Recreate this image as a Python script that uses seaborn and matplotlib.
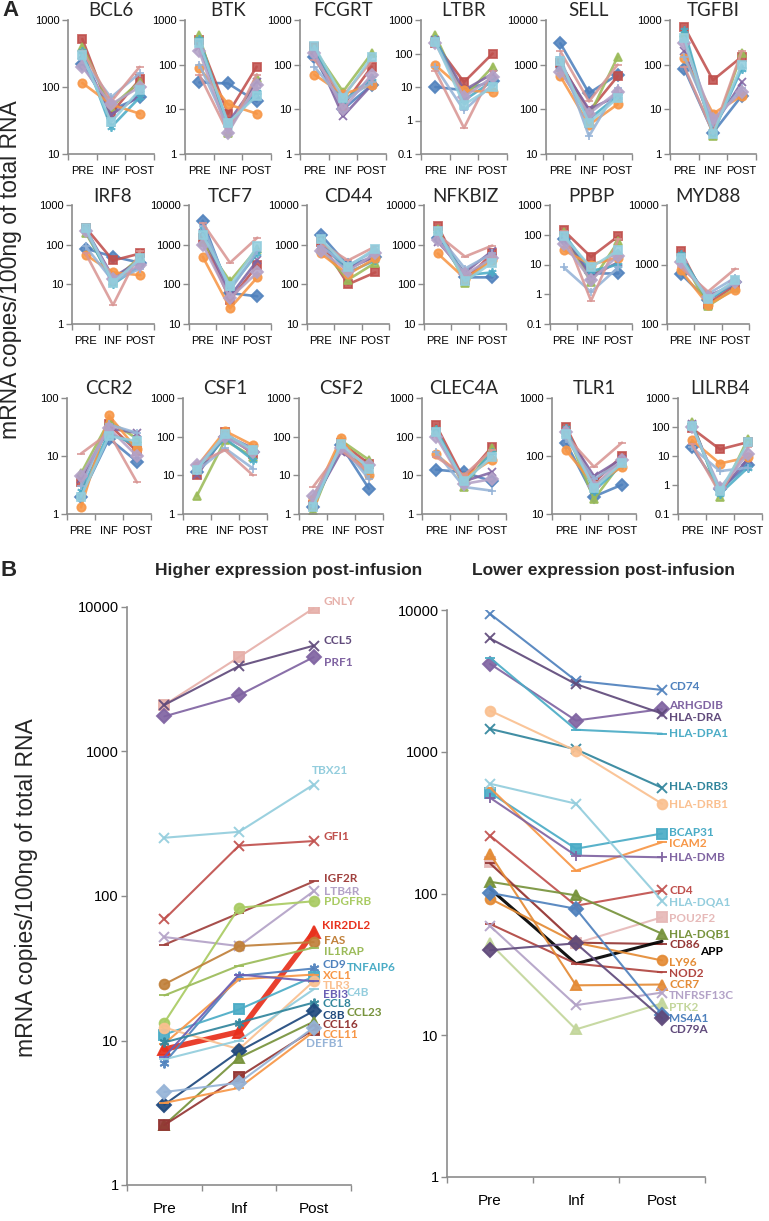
import matplotlib
matplotlib.use("Agg")
import matplotlib.pyplot as plt
import matplotlib.ticker as mticker
import seaborn as sns
import numpy as np

# ---------------- DATA ----------------
A_times = ["PRE", "INF", "POST"]
B_times = ["Pre", "Inf", "Post"]

A_genes = ["BCL6", "BTK", "FCGRT", "LTBR", "SELL", "TGFBI",
           "IRF8", "TCF7", "CD44", "NFKBIZ", "PPBP", "MYD88",
           "CCR2", "CSF1", "CSF2", "CLEC4A", "TLR1", "LILRB4"]
A_ylims = [(10, 1000), (1, 1000), (1, 1000), (0.1, 1000), (10, 10000), (1, 1000),
           (1, 1000), (10, 10000), (10, 10000), (10, 10000), (0.1, 1000), (100, 10000),
           (1, 100), (1, 1000), (1, 1000), (1, 1000), (10, 1000), (0.1, 1000)]

# ten patients per gene, values PRE / INF / POST
BCL6 = [[220, 45, 70], [520, 40, 130], [400, 50, 120], [300, 38, 75], [350, 25, 70],
        [115, 55, 40], [250, 70, 160], [350, 60, 200], [200, 55, 100], [300, 30, 90]]
BTK = [[40, 38, 15], [350, 8, 90], [450, 3, 50], [250, 5, 40], [380, 4, 25],
       [85, 13, 8], [100, 4, 30], [60, 3, 60], [200, 3, 35], [300, 5, 20]]
FCGRT = [[150, 10, 35], [250, 12, 90], [220, 25, 180], [200, 7, 35], [230, 15, 50],
         [60, 22, 35], [90, 15, 40], [130, 20, 120], [180, 10, 60], [260, 18, 150]]
LTBR = [[10, 8, 15], [200, 14, 100], [350, 5, 40], [250, 8, 25], [280, 4, 15],
        [45, 8, 7], [40, 2, 12], [30, 0.6, 30], [200, 5, 20], [220, 3, 10]]
SELL = [[3000, 230, 600], [1100, 90, 550], [900, 70, 1500], [1000, 100, 200], [800, 60, 200],
        [550, 45, 130], [1500, 25, 300], [2000, 150, 1000], [700, 80, 250], [1200, 50, 180]]
TGFBI = [[80, 3, 20], [700, 45, 150], [500, 2.5, 180], [200, 4, 40], [600, 3, 80],
         [140, 8, 20], [150, 5, 30], [90, 3, 200], [300, 6, 25], [400, 2.8, 100]]
IRF8 = [[80, 50, 35], [270, 40, 60], [200, 12, 50], [250, 15, 40], [230, 10, 30],
        [55, 20, 17], [90, 12, 25], [60, 3, 70], [220, 14, 30], [260, 11, 45]]
TCF7 = [[4000, 60, 50], [1500, 40, 300], [1200, 120, 800], [2000, 50, 400], [2500, 80, 600],
        [500, 25, 150], [3000, 70, 700], [3500, 350, 1500], [1000, 45, 200], [1800, 90, 900]]
CD44 = [[1800, 300, 500], [1200, 100, 200], [800, 130, 350], [1000, 250, 500], [1300, 200, 400],
        [600, 180, 450], [900, 300, 700], [1100, 400, 900], [700, 220, 600], [1400, 280, 800]]
NFKBIZ = [[1500, 150, 150], [3000, 130, 600], [2500, 110, 500], [1200, 200, 700], [2000, 170, 200],
          [600, 140, 400], [1800, 250, 600], [1800, 500, 950], [1300, 180, 450], [2200, 120, 350]]
PPBP = [[70, 5, 5], [140, 18, 90], [120, 2.5, 60], [100, 4, 12], [110, 6, 10],
        [30, 10, 17], [8, 1.2, 8], [130, 0.6, 70], [50, 3, 20], [90, 8, 30]]
MYD88 = [[700, 250, 500], [1700, 220, 450], [1400, 200, 400], [1200, 300, 450], [1500, 250, 500],
         [800, 210, 380], [1000, 320, 600], [900, 350, 850], [1100, 280, 500], [1300, 260, 550]]
CCR2 = [[2, 20, 8], [3.5, 35, 12], [5, 40, 20], [4, 30, 25], [2.5, 25, 15],
        [1.3, 50, 13], [3, 35, 25], [11, 25, 3.5], [4.5, 30, 10], [2, 22, 18]]
CSF1 = [[12, 100, 40], [10, 130, 35], [3, 80, 30], [10, 110, 50], [15, 90, 25],
        [17, 140, 60], [13, 50, 15], [20, 45, 10], [18, 100, 40], [14, 120, 45]]
CSF2 = [[1.5, 60, 4.5], [1.7, 70, 20], [1.2, 80, 25], [2, 40, 15], [1.8, 55, 10],
        [2.5, 90, 10], [2, 60, 8], [5, 45, 12], [3, 50, 18], [1.5, 65, 15]]
CLEC4A = [[14, 12, 7], [200, 8, 55], [150, 5, 50], [120, 7, 12], [160, 6, 40],
          [35, 9, 25], [40, 5, 4], [30, 10, 45], [100, 6, 8], [130, 7, 30]]
TLR1 = [[170, 20, 32], [320, 35, 100], [280, 18, 80], [250, 45, 90], [300, 25, 70],
        [125, 32, 65], [200, 40, 80], [220, 65, 170], [260, 30, 85], [240, 28, 75]]
LILRB4 = [[20, 0.7, 5], [90, 17, 30], [150, 0.4, 40], [130, 0.6, 8], [120, 0.5, 4],
          [35, 5.5, 9], [20, 3, 4], [25, 0.5, 20], [100, 0.8, 12], [110, 0.6, 30]]
A_values = [BCL6, BTK, FCGRT, LTBR, SELL, TGFBI, IRF8, TCF7, CD44, NFKBIZ, PPBP, MYD88,
            CCR2, CSF1, CSF2, CLEC4A, TLR1, LILRB4]

# Panel B left: higher expression post-infusion
BL_genes = ["GNLY", "CCL5", "PRF1", "TBX21", "GFI1", "IGF2R", "LTB4R", "PDGFRB", "KIR2DL2",
            "FAS", "IL1RAP", "CD9", "TNFAIP6", "XCL1", "TLR3", "C4B", "EBI3", "CCL8", "C8B",
            "CCL23", "CCL16", "CCL11", "DEFB1"]
BL_pre = [2100, 2100, 1750, 253, 69, 46, 52, 13.3, 8.7, 24.5, 20.5, 7, 11, 9.5, 12.3, 7.4, 7.7,
          9.7, 3.6, 2.6, 2.6, 3.7, 4.4]
BL_inf = [4500, 3900, 2450, 278, 223, 76, 45, 83, 11.5, 45, 33, 28, 16.4, 26.5, 8.7, 10, 28.6,
          13.3, 8.4, 7.6, 5.6, 4.7, 5.1]
BL_post = [9800, 5400, 4500, 590, 240, 126, 108, 92, 56, 48, 44, 31.5, 27.7, 28.6, 25.7, 22.6,
           25.7, 18.3, 16, 13.5, 11.9, 11.5, 12.3]
BL_label_y = [11000, 5900, 4150, 735, 257, 133, 108, 91, 62, 49, 41.5, 33.7, 32, 28.3, 24, 21.5,
              20.9, 18, 14.9, 15.6, 12.9, 11, 9.5]
BL_colors = ["#E6B0AA", "#604A7B", "#8064A2", "#93CDDD", "#C0504D", "#A0403D", "#B3A2C7",
             "#A9CB63", "#E8301C", "#C0803A", "#9BBB59", "#4F81BD", "#4BACC6", "#F79646",
             "#FAC090", "#93CDDD", "#6A5FB5", "#31859C", "#1F497D", "#77933C", "#943634",
             "#F79646", "#95B3D7"]

# Panel B right: lower expression post-infusion
BR_genes = ["CD74", "ARHGDIB", "HLA-DRA", "HLA-DPA1", "HLA-DRB3", "HLA-DRB1", "BCAP31", "ICAM2",
            "HLA-DMB", "CD4", "HLA-DQA1", "POU2F2", "HLA-DQB1", "CD86", "APP", "LY96", "NOD2",
            "CCR7", "TNFRSF13C", "PTK2", "MS4A1", "CD79A"]
BR_pre = [9400, 4170, 6300, 4600, 1450, 1950, 515, 557, 474, 256, 595, 166, 121, 163, 108, 92, 61,
          190, 59, 44.5, 101, 39.8]
BR_inf = [3170, 1660, 3000, 1430, 1040, 1015, 207, 145, 185, 82, 430, 44.5, 97, 45, 32, 45, 32,
          22.5, 16.3, 11, 78, 44.5]
BR_post = [2730, 2000, 1860, 1340, 557, 430, 265, 230, 180, 105, 89, 68, 52, 44, 46, 33.7, 27.8,
           22.8, 20, 16.8, 14, 13.2]
BR_label_y = [2870, 2110, 1735, 1340, 567, 424, 269, 225, 179, 105, 86.5, 66.7, 52, 43.7, 39, 32.7,
              27.3, 22.9, 19.1, 15.7, 13.2, 11]
BR_colors = ["#4F81BD", "#8064A2", "#604A7B", "#4BACC6", "#31859C", "#FAC090", "#4BACC6",
             "#F79646", "#8064A2", "#C0504D", "#93CDDD", "#E6B9B8", "#77933C", "#943634",
             "#000000", "#E48B35", "#B04540", "#E48B35", "#B3A2C7", "#C3D69B", "#4F81BD",
             "#604A7B"]

# ---------------- STYLE ----------------
ASTER = (6, 2, 0)
A_colors = ["#4F81BD", "#C0504D", "#9BBB59", "#8064A2", "#4BACC6", "#F79646",
            "#95B3D7", "#D99694", "#B3A2C7", "#93CDDD"]
A_markers = ["D", "s", "^", "x", ASTER, "o", "+", "_", "D", "s"]

BL_markers = ["s", "x", "D", "x", "x", "_", "x", "o", "^", "o", "_", ASTER, "s", "_", "o",
              "_", "_", ASTER, "D", "^", "s", "_", "D"]
BL_dx = [10, 10, 10, -2, 10, 10, 10, 10, 8, 10, 10, 9, 33, 9, 9, 33, 9, 9, 9, 33, 9, 9, -8]
BL_lw = [1.5] * 23
BL_lw[8] = 4.0

BR_markers = ["x", "D", "x", "_", "x", "o", "s", "_", "+", "x", "x", "s", "^", "_", None, "o",
              "_", "^", "x", "^", "D", "D"]
BR_dx = [7] * 22
BR_dx[14] = 38
BR_lw = [1.5] * 22
BR_lw[14] = 2.2

sns.set_theme(style="white")
plt.rcParams["font.family"] = ["Liberation Sans", "DejaVu Sans"]
GRAY = "#8C8C8C"

W, H = 769, 1221
fig = plt.figure(figsize=(W / 100, H / 100), dpi=100)
fig.patch.set_facecolor("white")


def add_ax(left, top, width, height):
    return fig.add_axes([left / W, 1 - (top + height) / H, width / W, height / H])


def style_ax(ax, ylo, yhi, labels, ysize, xsize, xpad):
    ax.set_yscale("log")
    ax.set_ylim(ylo, yhi)
    dec = 10.0 ** np.arange(round(np.log10(ylo)), round(np.log10(yhi)) + 1)
    ax.yaxis.set_major_locator(mticker.FixedLocator(dec))
    ax.yaxis.set_minor_locator(mticker.NullLocator())
    ax.yaxis.set_major_formatter(mticker.FuncFormatter(lambda v, p: f"{v:g}"))
    ax.set_xlim(-0.5, 2.5)
    ax.set_xticks(range(3))
    ax.set_xticklabels(labels)
    ax.xaxis.set_minor_locator(mticker.FixedLocator([-0.5, 0.5, 1.5, 2.5]))
    ax.tick_params(axis="x", which="major", length=0, pad=xpad, labelsize=xsize,
                   bottom=True, labelcolor="black")
    ax.tick_params(axis="x", which="minor", length=4, width=1, color=GRAY,
                   direction="out", bottom=True)
    ax.tick_params(axis="y", which="major", length=4, width=1, color=GRAY,
                   direction="out", left=True, labelsize=ysize, pad=2, labelcolor="black")
    for s in ["top", "right"]:
        ax.spines[s].set_visible(False)
    for s in ["left", "bottom"]:
        ax.spines[s].set_color(GRAY)
        ax.spines[s].set_linewidth(1.2)
    ax.set_xlabel("")
    ax.set_ylabel("")
    ax.set_facecolor("none")


# ---------------- PANEL A ----------------
row_tb = [(20, 134), (205, 119), (398, 116)]
row_lefts = [[68, 185, 300, 421, 546, 670],
             [72, 189, 307, 424, 550, 667],
             [67, 183, 299, 422, 552, 678]]
row_w = [86, 82, 84]
title_y = [11, 197, 388]
xpos = np.arange(len(A_times))

for gi, gene in enumerate(A_genes):
    r, c = divmod(gi, 6)
    top, hgt = row_tb[r]
    left = row_lefts[r][c]
    ax = add_ax(left, top, row_w[r], hgt)
    for si, vals in enumerate(A_values[gi]):
        sns.lineplot(x=xpos, y=vals, ax=ax, color=A_colors[si], marker=A_markers[si],
                     markersize=6, markeredgecolor=A_colors[si], markeredgewidth=1.3,
                     linewidth=1.9, sort=False, legend=False, alpha=0.88)
    style_ax(ax, A_ylims[gi][0], A_ylims[gi][1], A_times, 8, 8, 9)
    fig.text((left + row_w[r] / 2) / W, 1 - title_y[r] / H, gene, ha="center", va="center",
             fontsize=13.5, family=["Lato", "DejaVu Sans"])

fig.text(11 / W, 1 - 270 / H, "mRNA copies/100ng of total RNA", rotation=90,
         ha="center", va="center", fontsize=16.5)
fig.text(2 / W, 1 - 11 / H, "A", ha="left", va="center", fontsize=16, fontweight="bold")

# ---------------- PANEL B ----------------
fig.text(1 / W, 1 - 571 / H, "B", ha="left", va="center", fontsize=16, fontweight="bold")
fig.text(289 / W, 1 - 571 / H, "Higher expression post-infusion", ha="center", va="center",
         fontsize=12.5, fontweight="bold", family=["Liberation Sans Narrow", "Liberation Sans"])
fig.text(603 / W, 1 - 571 / H, "Lower expression post-infusion", ha="center", va="center",
         fontsize=12.5, fontweight="bold", family=["Liberation Sans Narrow", "Liberation Sans"])

label_font = ["Lato", "DejaVu Sans"]

axL = add_ax(127, 607, 224, 578)
for i, g in enumerate(BL_genes):
    vals = [BL_pre[i], BL_inf[i], BL_post[i]]
    sns.lineplot(x=xpos, y=vals, ax=axL, color=BL_colors[i], marker=BL_markers[i],
                 markersize=7 if i != 8 else 9, markeredgecolor=BL_colors[i],
                 markeredgewidth=1.4, linewidth=BL_lw[i], sort=False, legend=False, alpha=0.92)
for i, g in enumerate(BL_genes):
    axL.annotate(g, xy=(2, BL_label_y[i]), xytext=(BL_dx[i] * 0.72, 0),
                 textcoords="offset points", ha="left", va="center", color=BL_colors[i],
                 fontsize=8.5, fontweight="bold", family=label_font,
                 annotation_clip=False)
style_ax(axL, 1, 10000, B_times, 10.5, 11, 12)

axR = add_ax(447, 610, 258, 567)
for i, g in enumerate(BR_genes):
    vals = [BR_pre[i], BR_inf[i], BR_post[i]]
    sns.lineplot(x=xpos, y=vals, ax=axR, color=BR_colors[i], marker=BR_markers[i],
                 markersize=7, markeredgecolor=BR_colors[i], markeredgewidth=1.4,
                 linewidth=BR_lw[i], sort=False, legend=False, alpha=0.92)
for i, g in enumerate(BR_genes):
    axR.annotate(g, xy=(2, BR_label_y[i]), xytext=(BR_dx[i] * 0.72, 0),
                 textcoords="offset points", ha="left", va="center", color=BR_colors[i],
                 fontsize=8.5, fontweight="bold", family=label_font,
                 annotation_clip=False)
style_ax(axR, 1, 10000, B_times, 10.5, 11, 12)

fig.text(27 / W, 1 - 888 / H, "mRNA copies/100ng of total RNA", rotation=90,
         ha="center", va="center", fontsize=16.5)

fig.savefig("out.png", dpi=100, facecolor="white")
